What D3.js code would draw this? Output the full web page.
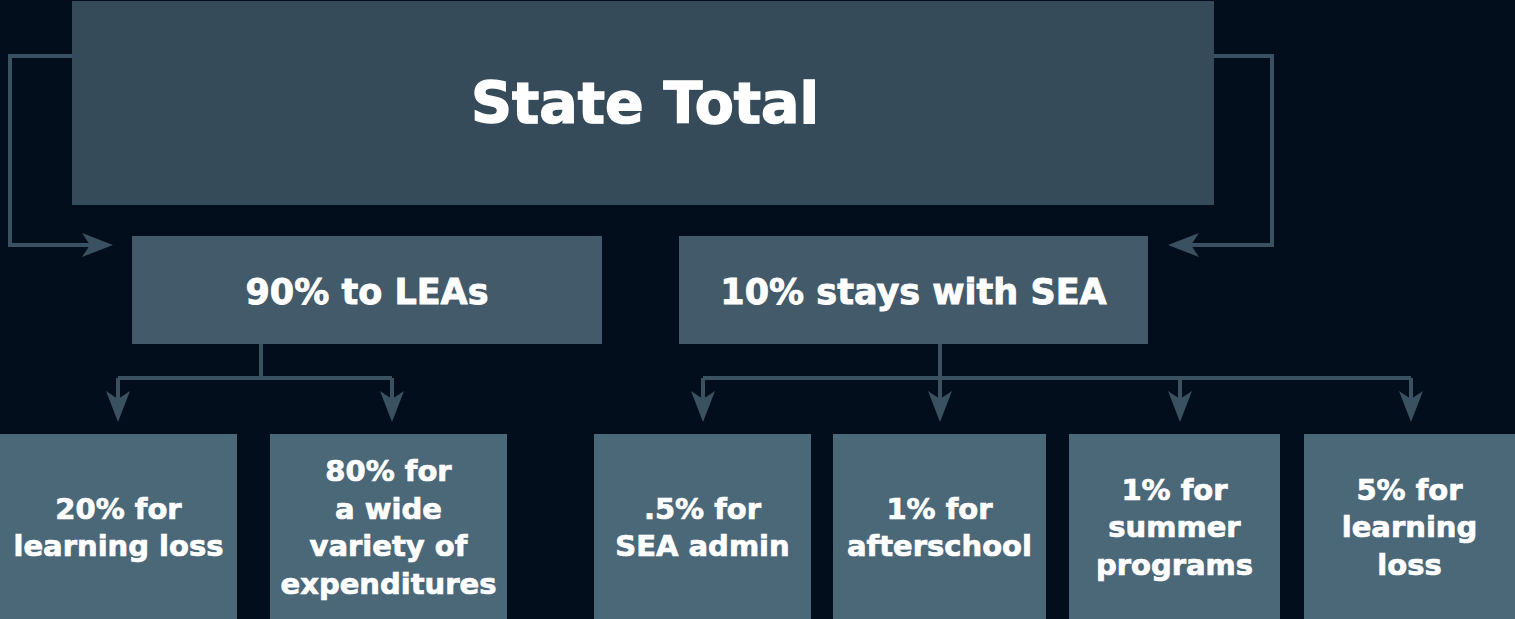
<!DOCTYPE html>
<html>
<head>
<meta charset="utf-8">
<script src="https://cdn.jsdelivr.net/npm/d3@7"></script>
<style>
  html, body { margin: 0; padding: 0; background: #020e1c; }
  svg { display: block; }
</style>
</head>
<body>
<div id="chart"></div>
<script>
// data
const rootLabel = ["State Total"]
const midLabels = [["90% to LEAs"], ["10% stays with SEA"]]
const leafLabels = [
  ["20% for", "learning loss"],
  ["80% for", "a wide", "variety of", "expenditures"],
  [".5% for", "SEA admin"],
  ["1% for", "afterschool"],
  ["1% for", "summer", "programs"],
  ["5% for", "learning", "loss"]
]
const leafParent = [0, 0, 1, 1, 1, 1]

// layout
const width = 1515, height = 619
const bg = "#020e1c"
const lineColor = "#3a5162"
const font = "'DejaVu Sans', 'Open Sans', sans-serif"
const rootBox = { x0: 72, x1: 1214, y0: 1, y1: 205, fill: "#364b5a" }
const midBoxes = [
  { x0: 132, x1: 602 },
  { x0: 679, x1: 1148 }
]
const midY = [236, 344]
const leafBoxes = [
  { x0: 0, x1: 237 },
  { x0: 270, x1: 507 },
  { x0: 594, x1: 811 },
  { x0: 833, x1: 1046 },
  { x0: 1069, x1: 1280 },
  { x0: 1304, x1: 1515 }
]
const leafY = [434, 619]
const busY = 378, arrowTipY = 422
const leafArrowX = [118, 392, 703, 940, 1180, 1411]

const svg = d3.select("#chart").append("svg")
  .attr("width", width)
  .attr("height", height)
  .attr("viewBox", [0, 0, width, height])

svg.append("rect").attr("width", width).attr("height", height).attr("fill", bg)

// arrow head shape, tip at origin pointing +x
const head = "M0,0 L-31,-12 L-23,0 L-31,12 Z"
function arrowHead(g, x, y, angle) {
  g.append("path")
    .attr("d", head)
    .attr("transform", `translate(${x},${y}) rotate(${angle})`)
    .attr("fill", lineColor)
}

const links = svg.append("g")
  .attr("fill", "none")
  .attr("stroke", lineColor)
  .attr("stroke-width", 4)

// side connectors from root to mid boxes
const sideY = 56, sideBottom = 245
links.append("path")
  .attr("d", d3.line()([[rootBox.x0, sideY], [10, sideY], [10, sideBottom], [95, sideBottom]]))
links.append("path")
  .attr("d", d3.line()([[rootBox.x1, sideY], [1272, sideY], [1272, sideBottom], [1186, sideBottom]]))
arrowHead(svg, 113, sideBottom, 0)
arrowHead(svg, 1168, sideBottom, 180)

// trees from mid boxes to leaves
midBoxes.forEach((b, i) => {
  const cx = [261, 940][i]
  const kids = leafParent.map((p, j) => p === i ? j : -1).filter(j => j >= 0)
  const xs = kids.map(j => leafArrowX[j])
  links.append("path").attr("d", d3.line()([[cx, midY[1]], [cx, busY]]))
  links.append("path").attr("d", d3.line()([[d3.min(xs), busY], [d3.max(xs), busY]]))
  xs.forEach(x => {
    links.append("path").attr("d", d3.line()([[x, busY], [x, arrowTipY - 12]]))
    arrowHead(svg, x, arrowTipY, 90)
  })
})

// boxes
svg.append("rect")
  .attr("x", rootBox.x0).attr("y", rootBox.y0)
  .attr("width", rootBox.x1 - rootBox.x0).attr("height", rootBox.y1 - rootBox.y0)
  .attr("fill", rootBox.fill)

svg.append("g").selectAll("rect").data(midBoxes).join("rect")
  .attr("x", d => d.x0).attr("y", midY[0])
  .attr("width", d => d.x1 - d.x0).attr("height", midY[1] - midY[0])
  .attr("fill", "#425a6a")

svg.append("g").selectAll("rect").data(leafBoxes).join("rect")
  .attr("x", d => d.x0).attr("y", leafY[0])
  .attr("width", d => d.x1 - d.x0).attr("height", leafY[1] - leafY[0])
  .attr("fill", "#4b6879")

// labels
function label(lines, cx, cy, size, lh) {
  const t = svg.append("text")
    .attr("text-anchor", "middle")
    .attr("fill", "#ffffff")
    .attr("stroke", "#ffffff")
    .attr("stroke-width", size / 40)
    .attr("font-family", font)
    .attr("font-weight", "bold")
    .attr("font-size", size)
  const n = lines.length
  lines.forEach((s, k) => {
    t.append("tspan")
      .attr("x", cx)
      .attr("y", cy + (k - (n - 1) / 2) * lh)
      .attr("dy", "0.36em")
      .text(s)
  })
}

label(rootLabel, (rootBox.x0 + rootBox.x1) / 2 + 2, 102, 57, 60)
midBoxes.forEach((b, i) => label(midLabels[i], (b.x0 + b.x1) / 2, 291, 35, 40))
leafBoxes.forEach((b, i) => label(leafLabels[i], (b.x0 + b.x1) / 2, 527, 29, 37.5))
</script>
</body>
</html>
